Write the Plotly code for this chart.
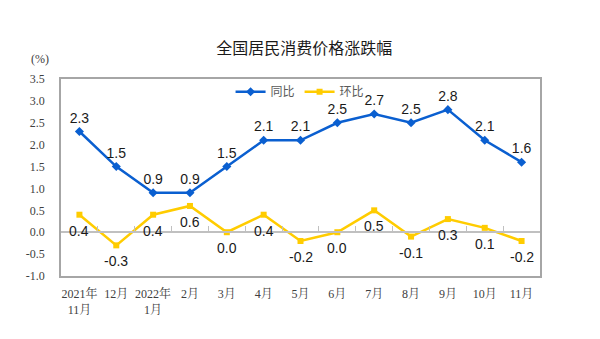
import plotly.graph_objects as go

categories = ["2021年<br>11月", "12月", "2022年<br>1月", "2月", "3月", "4月", "5月",
              "6月", "7月", "8月", "9月", "10月", "11月"]
yoy = [2.3, 1.5, 0.9, 0.9, 1.5, 2.1, 2.1, 2.5, 2.7, 2.5, 2.8, 2.1, 1.6]
mom = [0.4, -0.3, 0.4, 0.6, 0.0, 0.4, -0.2, 0.0, 0.5, -0.1, 0.3, 0.1, -0.2]
y_ticks = [3.5, 3.0, 2.5, 2.0, 1.5, 1.0, 0.5, 0.0, -0.5, -1.0]

BLUE = "#0A5FD0"
YELLOW = "#FFCC00"
serif = "Liberation Serif, Times New Roman, Noto Serif CJK SC, Noto Sans CJK SC, serif"
sans = "Liberation Sans, Arial, Noto Sans CJK SC, sans-serif"
label_font = dict(family=sans, size=14, color="#1a1a1a")

fig = go.Figure()
fig.add_trace(go.Scatter(
    x=categories, y=yoy, name="同比", mode="lines+markers+text",
    line=dict(color=BLUE, width=2.5),
    marker=dict(symbol="diamond", size=7, color=BLUE),
    text=[f"{v:.1f}" for v in yoy], textposition="top center",
    textfont=label_font, cliponaxis=False,
))
fig.add_trace(go.Scatter(
    x=categories, y=mom, name="环比", mode="lines+markers",
    line=dict(color=YELLOW, width=2.5),
    marker=dict(symbol="square", size=6, color=YELLOW),
    cliponaxis=False,
))
for c, v in zip(categories, mom):
    fig.add_annotation(x=c, y=v, text=f"{v:.1f}", showarrow=False,
                       yanchor="middle", yshift=-16, font=label_font)

# invisible trace to carry the zero-line category axis
fig.add_trace(go.Scatter(x=categories, y=[0] * len(categories), xaxis="x2",
                         mode="lines", line=dict(width=0), showlegend=False,
                         hoverinfo="skip"))

ymin, ymax = -1.0, 3.5
fig.update_layout(
    width=600, height=339,
    margin=dict(l=61, r=60, t=79, b=63),
    paper_bgcolor="white", plot_bgcolor="white",
    title=dict(text="全国居民消费价格涨跌幅", x=0.507, xanchor="center", y=0.858, yanchor="middle",
               font=dict(family="Noto Sans CJK SC, sans-serif", size=16, color="#1a1a1a")),
    xaxis=dict(type="category", range=[-0.5, 12.5], showline=True, linecolor="#A6A6A6",
               linewidth=1.5, mirror=True, ticks="", showgrid=False, zeroline=False,
               ticklabelstandoff=6,
               tickfont=dict(family=serif, size=12, color="#404040")),
    xaxis2=dict(type="category", range=[-0.5, 12.5], overlaying="x", anchor="free",
                position=(0 - ymin) / (ymax - ymin), showline=True, linecolor="#C0C0C0",
                linewidth=1.5, ticks="inside", tickson="boundaries", ticklen=5,
                tickcolor="#C0C0C0", showticklabels=False, showgrid=False),
    yaxis=dict(range=[ymin, ymax], tickvals=y_ticks, ticktext=[f"{v:.1f}" for v in y_ticks],
               showline=True, linecolor="#A6A6A6", linewidth=1.5, mirror=True,
               showgrid=False, zeroline=False, ticks="", ticklabelstandoff=12,
               tickfont=dict(family=serif, size=12, color="#404040")),
    legend=dict(orientation="h", x=0.354, xanchor="left", y=0.935, yanchor="middle",
                bgcolor="rgba(0,0,0,0)", font=dict(family="Noto Sans CJK SC, sans-serif", size=12, color="#595959"),
                itemwidth=30, tracegroupgap=0),
    showlegend=True,
)
fig.add_annotation(text="(%)", xref="paper", yref="paper", x=-0.044, y=1.10,
                   showarrow=False, xanchor="center", yanchor="middle",
                   font=dict(family=serif, size=12, color="#404040"))

fig.write_html("out.html")
